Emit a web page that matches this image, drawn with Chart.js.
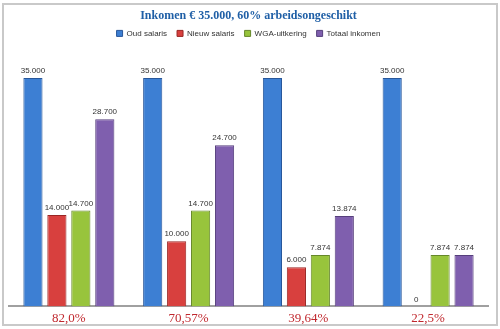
<!DOCTYPE html>
<html>
<head>
<meta charset="utf-8">
<script src="https://cdn.jsdelivr.net/npm/chart.js@4.4.0/dist/chart.umd.min.js"></script>
<style>
  body { margin: 0; background: #fff; }
  #wrap { position: absolute; left: 2px; top: 3px; width: 492px; height: 319px; border: 2px solid #c9c9c9; background: #fff; }
</style>
</head>
<body>
<div id="wrap"><canvas id="chart1"></canvas></div>
<script>
const labels = ['82,0%', '70,57%', '39,64%', '22,5%'];
const oudSalaris = [35000, 35000, 35000, 35000];
const nieuwSalaris = [14000, 10000, 6000, 0];
const wgaUitkering = [14700, 14700, 7874, 7874];
const totaalInkomen = [28700, 24700, 13874, 7874];

const fmt = (v) => String(v).replace(/\B(?=(\d{3})+(?!\d))/g, '.');

// waarden boven de staven
const valueLabels = {
  id: 'valueLabels',
  afterDatasetsDraw(chart) {
    const ctx = chart.ctx;
    ctx.save();
    ctx.font = '8px "Liberation Sans", Arial, sans-serif';
    ctx.fillStyle = '#333';
    ctx.textAlign = 'center';
    ctx.textBaseline = 'bottom';
    chart.data.datasets.forEach((ds, i) => {
      chart.getDatasetMeta(i).data.forEach((bar, j) => {
        ctx.fillText(fmt(ds.data[j]), bar.x, bar.y - 3);
      });
    });
    ctx.restore();
  }
};

const ctx1 = document.getElementById('chart1').getContext('2d');

const config = {
  type: 'bar',
  data: {
    labels: labels,
    datasets: [{
      label: 'Oud salaris',
      data: oudSalaris,
      backgroundColor: '#3d7fd3',
      borderColor: '#28579a',
      borderWidth: 1
    }, {
      label: 'Nieuw salaris',
      data: nieuwSalaris,
      backgroundColor: '#d8403e',
      borderColor: '#9a2624',
      borderWidth: 1
    }, {
      label: 'WGA-uitkering',
      data: wgaUitkering,
      backgroundColor: '#98c43c',
      borderColor: '#66882a',
      borderWidth: 1
    }, {
      label: 'Totaal inkomen',
      data: totaalInkomen,
      backgroundColor: '#7f5fae',
      borderColor: '#563f7c',
      borderWidth: 1
    }]
  },
  options: {
    responsive: true,
    maintainAspectRatio: false,
    animation: false,
    layout: { padding: { left: 5, right: 8, top: 0, bottom: -6 } },
    datasets: { bar: { categoryPercentage: 0.8, barPercentage: 0.8 } },
    plugins: {
      title: {
        display: true,
        text: 'Inkomen € 35.000, 60% arbeidsongeschikt',
        color: '#1f5fa6',
        font: { family: '"Liberation Serif", serif', size: 12, weight: 'bold' },
        padding: { top: 4, bottom: -4 }
      },
      legend: {
        labels: {
          boxWidth: 6,
          boxHeight: 6,
          padding: 10,
          color: '#333',
          font: { family: '"Liberation Sans", Arial, sans-serif', size: 8 }
        }
      },
      tooltip: { enabled: false }
    },
    scales: {
      x: {
        grid: { display: false, drawTicks: false, tickLength: 0 },
        border: { color: '#a0a0a0', width: 2 },
        ticks: {
          color: '#c0282e',
          padding: 4,
          font: { family: '"Liberation Serif", serif', size: 13 }
        }
      },
      y: {
        display: false,
        min: 0,
        max: 39700
      }
    }
  },
  plugins: [valueLabels]
};
const chart1 = new Chart(ctx1, config);
</script>
</body>
</html>
